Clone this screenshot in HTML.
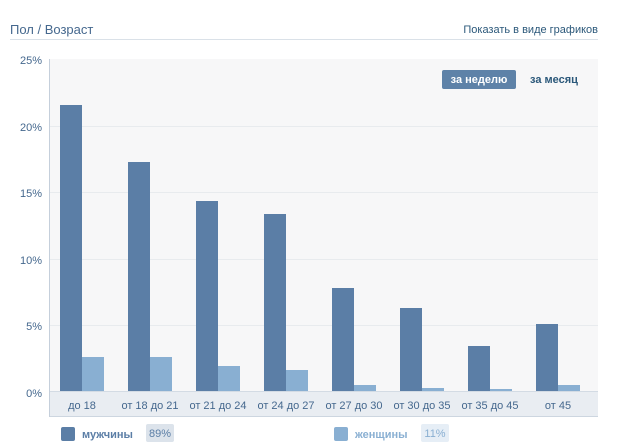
<!DOCTYPE html>
<html><head><meta charset="utf-8"><style>
body{margin:0;width:618px;height:446px;background:#fff;font-family:"Liberation Sans","DejaVu Sans",sans-serif;position:relative;overflow:hidden}
.a{position:absolute;white-space:nowrap}
</style></head><body>
<div class="a" style="left:10px;top:22px;font-size:13px;color:#45688e">Пол / Возраст</div>
<div class="a" style="right:20px;top:24px;font-size:11px;color:#2b587a">Показать в виде графиков</div>
<div class="a" style="left:10px;top:39px;width:588px;height:1px;background:#dae1e8"></div>
<svg class="a" style="left:0;top:0" width="618" height="446">
<rect x="49" y="59" width="549" height="333" fill="#f7f7f8"/>
<g stroke="#e8ebee" stroke-width="1">
<line x1="49" y1="126.5" x2="598" y2="126.5"/><line x1="49" y1="192.5" x2="598" y2="192.5"/>
<line x1="49" y1="259.5" x2="598" y2="259.5"/><line x1="49" y1="325.5" x2="598" y2="325.5"/>
</g>
<rect x="49" y="391" width="549" height="25" fill="#e9edf2"/>
<line x1="49" y1="391.5" x2="598" y2="391.5" stroke="#d3dbe4"/>
<line x1="49" y1="416.5" x2="598" y2="416.5" stroke="#cdd6e0"/>
<line x1="49.5" y1="59" x2="49.5" y2="417" stroke="#c5cfdb"/>
<g font-size="11" fill="#45688e" text-anchor="end">
<text x="42" y="64">25%</text><text x="42" y="131">20%</text><text x="42" y="197">15%</text>
<text x="42" y="264">10%</text><text x="42" y="330">5%</text><text x="42" y="397">0%</text>
</g>
<g fill="#5b7ea6">
<rect x="60" y="105" width="22" height="286"/><rect x="128" y="162" width="22" height="229"/>
<rect x="196" y="201" width="22" height="190"/><rect x="264" y="214" width="22" height="177"/>
<rect x="332" y="288" width="22" height="103"/><rect x="400" y="308" width="22" height="83"/>
<rect x="468" y="346" width="22" height="45"/><rect x="536" y="324" width="22" height="67"/>
</g>
<g fill="#89afd2">
<rect x="82" y="357" width="22" height="34"/><rect x="150" y="357" width="22" height="34"/>
<rect x="218" y="366" width="22" height="25"/><rect x="286" y="370" width="22" height="21"/>
<rect x="354" y="385" width="22" height="6"/><rect x="422" y="388" width="22" height="3"/>
<rect x="490" y="389" width="22" height="2"/><rect x="558" y="385" width="22" height="6"/>
</g>
<g font-size="11" fill="#45688e" text-anchor="middle">
<text x="82" y="409">до 18</text><text x="150" y="409">от 18 до 21</text><text x="218" y="409">от 21 до 24</text>
<text x="286" y="409">от 24 до 27</text><text x="354" y="409">от 27 до 30</text><text x="422" y="409">от 30 до 35</text>
<text x="490" y="409">от 35 до 45</text><text x="558" y="409">от 45</text>
</g>
<rect x="442" y="70" width="74" height="19" rx="2" fill="#5e82a8"/>
<text x="479" y="83" font-size="11" font-weight="bold" fill="#fff" text-anchor="middle">за неделю</text>
<text x="530" y="83" font-size="11" font-weight="bold" fill="#2b587a">за месяц</text>
<rect x="61" y="427" width="14" height="14" rx="2" fill="#5b7ea6"/>
<text x="82" y="438" font-size="11" font-weight="bold" fill="#5b7ea6">мужчины</text>
<rect x="146" y="424" width="28" height="18" rx="2" fill="#dce3eb"/>
<text x="160" y="437" font-size="11" fill="#5b7ea6" text-anchor="middle">89%</text>
<rect x="334" y="427" width="14" height="14" rx="2" fill="#89afd2"/>
<text x="355" y="438" font-size="11" font-weight="bold" fill="#89afd2">женщины</text>
<rect x="421" y="424" width="28" height="18" rx="2" fill="#e6eef6"/>
<text x="435" y="437" font-size="11" fill="#89afd2" text-anchor="middle">11%</text>
</svg>
</body></html>
